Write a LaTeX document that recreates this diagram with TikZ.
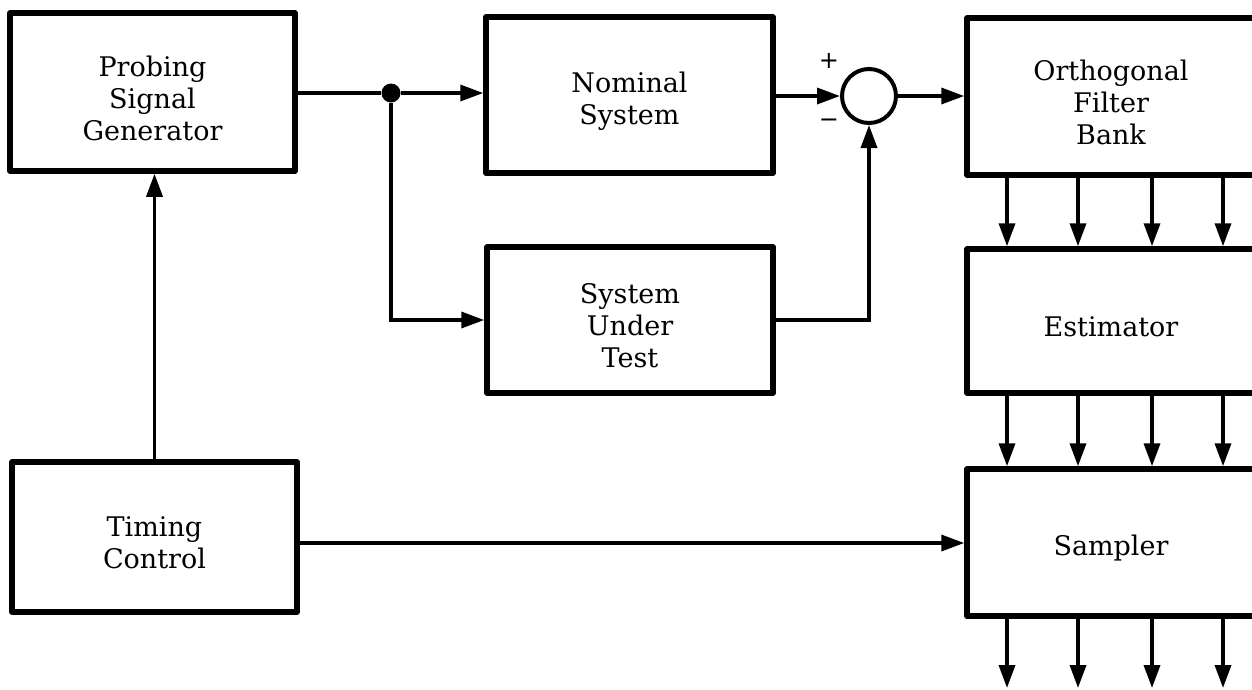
\documentclass[tikz,border=0pt]{standalone}
\usepackage{fontspec}
\setmainfont{DejaVu Serif}
\newfontfamily\signfont{DejaVu Sans}
\usetikzlibrary{arrows.meta}
\begin{document}
\begin{tikzpicture}[x=1pt,y=-1pt,
  blk/.style={draw, line width=5.5pt, line join=round, inner sep=0pt},
  txt/.style={align=center, font=\fontsize{27}{32}\selectfont, inner sep=0pt, yshift=-6pt},
  conn/.style={line width=3.5pt},
  arr/.style={conn, -{Triangle[length=23pt,width=16pt]}},
  sign/.style={font=\signfont\fontsize{24}{24}\selectfont, inner sep=0pt}
]
\useasboundingbox (0,0) rectangle (1252,689);
\clip (0,0) rectangle (1252,689);

\node[blk, minimum width=285pt, minimum height=158pt] (P) at (152.5,92) {};
\node[blk, minimum width=287pt, minimum height=156pt] (N) at (629.5,95) {};
\node[blk, minimum width=286pt, minimum height=146pt] (S) at (630,320) {};
\node[blk, minimum width=285pt, minimum height=150pt] (T) at (154.5,537) {};
\node[blk, minimum width=288pt, minimum height=157pt] (F) at (1111,96.5) {};
\node[blk, minimum width=288pt, minimum height=144pt] (E) at (1111,321) {};
\node[blk, minimum width=288pt, minimum height=147pt] (Sm) at (1111,542.5) {};

\node[txt] (Pt) at (P.center) {Probing\\Signal\\Generator};
\node[txt] (Nt) at (N.center) {Nominal\\System};
\node[txt] (St) at (S.center) {System\\Under\\Test};
\node[txt] (Tt) at (T.center) {Timing\\Control};
\node[txt] (Ft) at (F.center) {Orthogonal\\Filter\\Bank};
\node[txt] (Et) at (E.center) {Estimator};
\node[txt] (Smt) at (Sm.center) {Sampler};

\node[circle, draw, line width=4pt, minimum size=54pt, inner sep=0pt] (sum) at (869,96) {};
\node[circle, fill, minimum size=19pt, inner sep=0pt] (dot) at (391,93) {};
\node[sign] (plus) at (829,61) {+};
\node[sign] (minus) at (829,123) {−};

% signal path
\draw[conn] (P.east |- dot) -- (dot);
\draw[arr] (dot) -- (dot -| N.west);
\draw[arr] (dot) |- (S.west);
\draw[arr] (N.east |- sum) -- (sum.west);
\draw[arr] (S.east) -| (sum.south);
\draw[arr] (sum.east) -- (sum -| F.west);

% timing
\draw[arr] (T.north) -- (T.north |- P.south);
\coordinate (ty) at (0,543);
\draw[arr] (T.east |- ty) -- (Sm.west |- ty);

% parallel channels
\foreach \x [count=\i] in {1007,1078,1152,1223} {
  \coordinate (c\i) at (\x,0);
  \coordinate (o\i) at (\x,688);
  \draw[arr] (c\i |- F.south) -- (c\i |- E.north);
  \draw[arr] (c\i |- E.south) -- (c\i |- Sm.north);
  \draw[arr] (c\i |- Sm.south) -- (o\i);
}
\end{tikzpicture}
\end{document}
